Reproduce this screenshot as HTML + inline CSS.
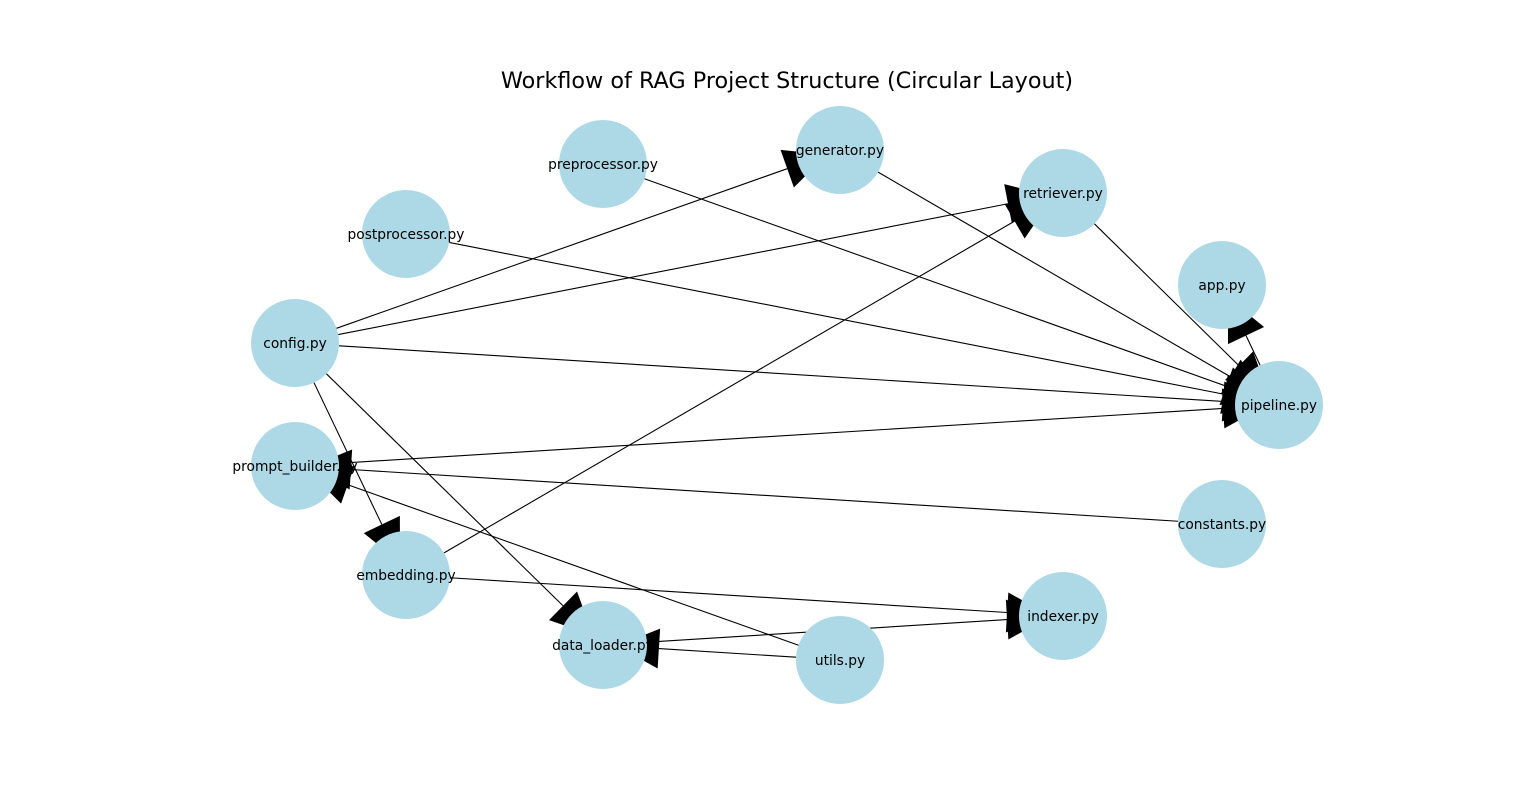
<!DOCTYPE html>
<html><head><meta charset="utf-8"><style>
html,body{margin:0;padding:0;background:#fff;}
svg{display:block;}
text{font-family:"DejaVu Sans","Liberation Sans",sans-serif;}
</style></head><body>
<svg id="s" width="1536" height="802" xmlns="http://www.w3.org/2000/svg">
<defs><mask id="m" maskUnits="userSpaceOnUse" x="0" y="0" width="1536" height="802"><rect x="0" y="0" width="1536" height="802" fill="#fff"/><g id="mk"></g></mask></defs>
<text x="787" y="88" font-size="22.3" text-anchor="middle" fill="#000">Workflow of RAG Project Structure (Circular Layout)</text>
<g id="nodes"></g><g id="labels"></g><g id="edges" mask="url(#m)"></g>
</svg>
<script>
var N={
"generator.py":[840,150],"retriever.py":[1063,193],"app.py":[1222,285],"pipeline.py":[1279,405],
"constants.py":[1222,524],"indexer.py":[1063,616],"utils.py":[840,660],"data_loader.py":[603,645],
"embedding.py":[406,575],"prompt_builder.py":[295,466],"config.py":[295,343],
"postprocessor.py":[406,234],"preprocessor.py":[603,164]};
var E=[["preprocessor.py","pipeline.py"],["postprocessor.py","pipeline.py"],["config.py","generator.py"],
["config.py","retriever.py"],["config.py","pipeline.py"],["config.py","embedding.py"],["config.py","data_loader.py"],
["generator.py","pipeline.py"],["retriever.py","pipeline.py"],["pipeline.py","app.py"],["prompt_builder.py","pipeline.py"],
["constants.py","prompt_builder.py"],["utils.py","prompt_builder.py"],["embedding.py","retriever.py"],
["embedding.py","indexer.py"],["data_loader.py","indexer.py"],["utils.py","data_loader.py"]];
var R=44,ns="http://www.w3.org/2000/svg";
function el(t,a,p){var e=document.createElementNS(ns,t);for(var k in a)e.setAttribute(k,a[k]);document.getElementById(p).appendChild(e);return e;}
for(var k in N){var c=N[k];el("circle",{cx:c[0],cy:c[1],r:R,fill:"#add8e6"},"nodes");
el("circle",{cx:c[0],cy:c[1],r:R,fill:"#000"},"mk");
var t=el("text",{x:c[0],y:c[1]+4.8,"font-size":13.8,"text-anchor":"middle",fill:"#000"},"labels");t.textContent=k;}
E.forEach(function(e){var a=N[e[0]],b=N[e[1]];var dx=b[0]-a[0],dy=b[1]-a[1],L=Math.hypot(dx,dy),ux=dx/L,uy=dy/L;
var sx=a[0]+ux*R,sy=a[1]+uy*R,tx=b[0]-ux*14,ty=b[1]-uy*14;
var bx=b[0]-ux*56,by=b[1]-uy*56,hw=20;
el("line",{x1:sx,y1:sy,x2:bx,y2:by,stroke:"#000","stroke-width":1.1},"edges");
el("polygon",{points:tx+","+ty+" "+(bx-uy*hw)+","+(by+ux*hw)+" "+(bx+uy*hw)+","+(by-ux*hw),fill:"#000"},"edges");});
</script>
</body></html>
